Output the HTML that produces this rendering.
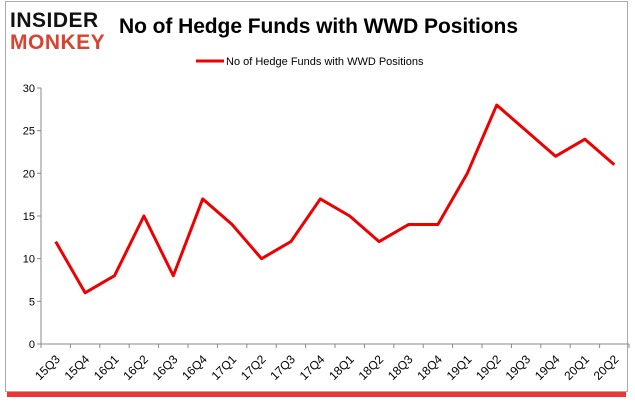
<!DOCTYPE html>
<html><head><meta charset="utf-8"><style>
body{margin:0;background:#fff;font-family:"Liberation Sans",sans-serif}
#wrap{position:relative;width:635px;height:405px;overflow:hidden}
</style></head><body>
<div id="wrap">
<svg id="svg" width="635" height="405" xmlns="http://www.w3.org/2000/svg">
<rect x="7" y="392" width="619" height="5" fill="#e00" opacity="0.8"/>
<rect x="5.5" y="1.5" width="622" height="390" fill="#fff" stroke="#aaa"/>
<g>
<text x="10" y="27" font-size="21" font-weight="bold" fill="#111" letter-spacing="0.5">INSIDER</text>
<text x="10" y="49" font-size="21" font-weight="bold" fill="#d9432f" letter-spacing="0.5">MONKEY</text>
</g>
<text x="119" y="33" font-size="21" font-weight="bold" fill="#000" textLength="399">No of Hedge Funds with WWD Positions</text>
<line x1="196" y1="61" x2="224" y2="61" stroke="#e00" stroke-width="3"/>
<text x="226" y="65" font-size="11" fill="#000">No of Hedge Funds with WWD Positions</text>
<g id="axes"></g>
<g id="marks"></g>
</svg>
</div>
<script>
const categories=["15Q3","15Q4","16Q1","16Q2","16Q3","16Q4","17Q1","17Q2","17Q3","17Q4","18Q1","18Q2","18Q3","18Q4","19Q1","19Q2","19Q3","19Q4","20Q1","20Q2"];
const values=[12,6,8,15,8,17,14,10,12,17,15,12,14,14,20,28,25,22,24,21];
const yTicks=[0,5,10,15,20,25,30];
const NS="http://www.w3.org/2000/svg";
const x0=41,x1=629,y0=344,y1=88,yMax=30;
const band=(x1-x0)/categories.length;
function xs(i){return x0+band*(i+0.5);}
function ys(v){return y0-(v/yMax)*(y0-y1);}
function mk(t,a,p){const e=document.createElementNS(NS,t);for(const k in a)e.setAttribute(k,a[k]);p.appendChild(e);return e;}
const ax=document.getElementById('axes'),mg=document.getElementById('marks');
const yl=mk('line',{x1:x0,y1:y1,x2:x0,y2:y0,stroke:'#888'},ax);


yTicks.forEach(v=>{
 const t=mk('text',{x:x0-6,y:ys(v)+4,'font-size':11,'text-anchor':'end',fill:'#000'},ax);
 t.textContent=v;
 
 
 const tk=mk('line',{x1:x0-4,y1:ys(v),x2:x0,y2:ys(v),stroke:'#888'},ax);
 
 
});
const xl=mk('line',{x1:x0,y1:y0,x2:x1,y2:y0,stroke:'#888'},ax);


for(let i=0;i<=categories.length;i++){
 const tk=mk('line',{x1:x0+band*i,y1:y0,x2:x0+band*i,y2:y0+4,stroke:'#888'},ax);
 
 
}
categories.forEach((c,i)=>{
 const x=xs(i)+5,y=y0+16;
 const t=mk('text',{x:x,y:y,'font-size':12,'text-anchor':'end',fill:'#000',transform:`rotate(-45 ${x} ${y})`},ax);
 t.textContent=c;
 
 
});
const pts=values.map((v,i)=>xs(i)+','+ys(v)).join(' ');
const pl=mk('polyline',{points:pts,fill:'none',stroke:'#e00','stroke-width':3,'stroke-linejoin':'round'},mg);


</script>
</body></html>
